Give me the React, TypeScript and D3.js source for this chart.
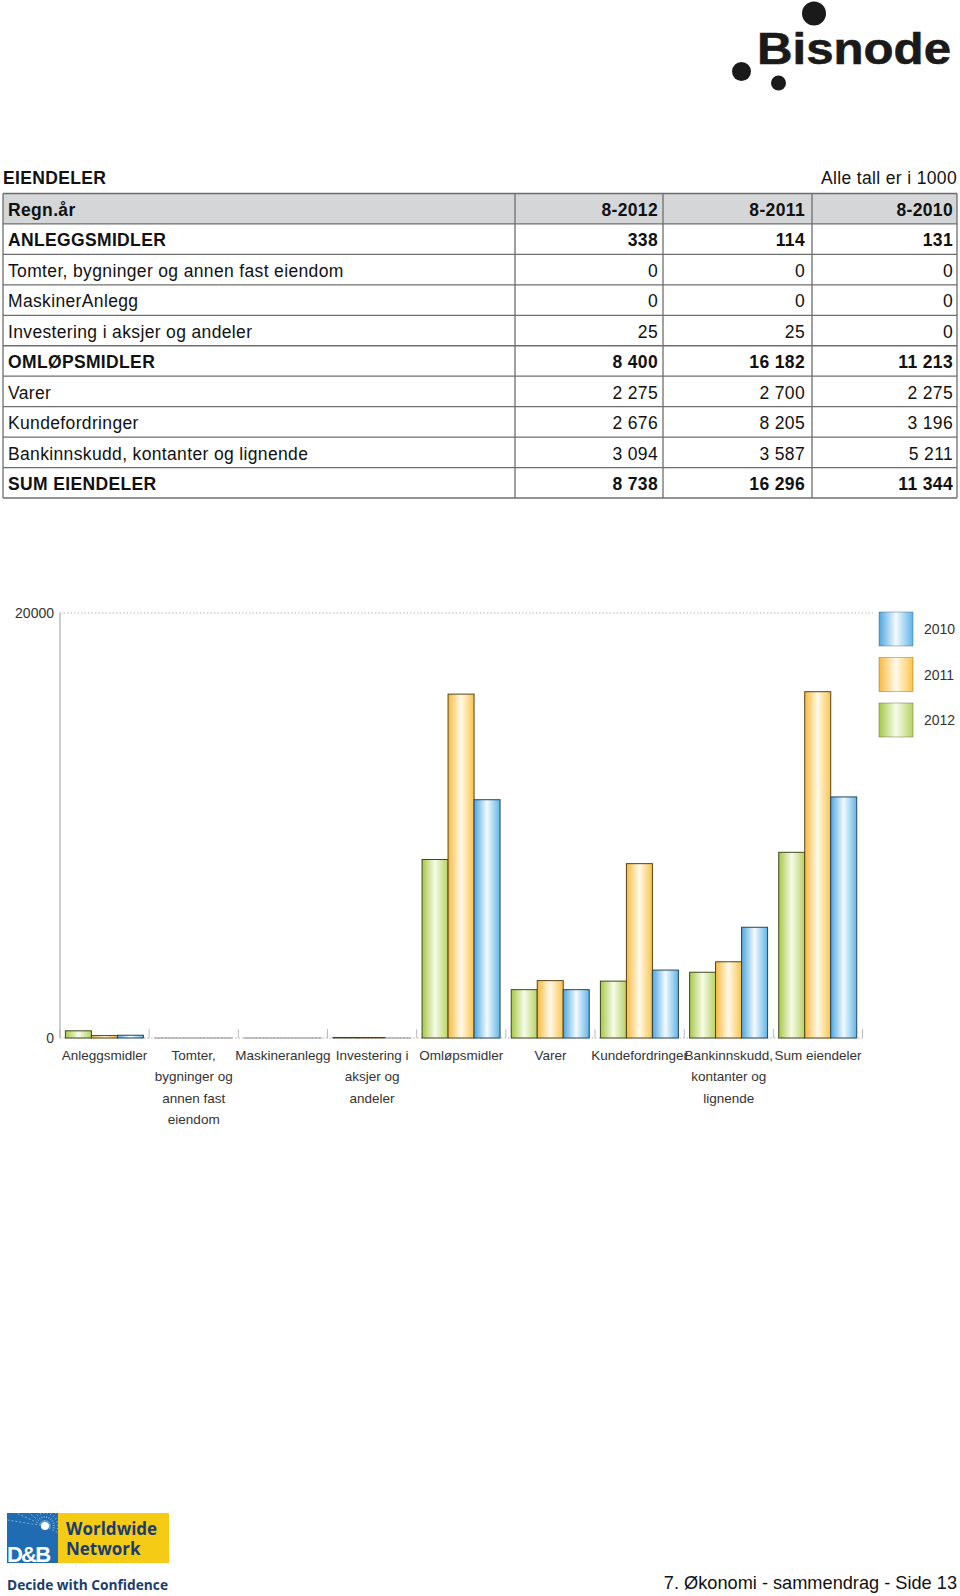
import React from "react";
import * as d3 from "d3";

const yearCols = ["8-2012", "8-2011", "8-2010"];
const rowLabels = [
  "ANLEGGSMIDLER",
  "Tomter, bygninger og annen fast eiendom",
  "MaskinerAnlegg",
  "Investering i aksjer og andeler",
  "OMLØPSMIDLER",
  "Varer",
  "Kundefordringer",
  "Bankinnskudd, kontanter og lignende",
  "SUM EIENDELER",
];
const rowIsSum = [true, false, false, false, true, false, false, false, true];
const values2012 = [338, 0, 0, 25, 8400, 2275, 2676, 3094, 8738];
const values2011 = [114, 0, 0, 25, 16182, 2700, 8205, 3587, 16296];
const values2010 = [131, 0, 0, 0, 11213, 2275, 3196, 5211, 11344];

const categoryLines = [
  ["Anleggsmidler"],
  ["Tomter,", "bygninger og", "annen fast", "eiendom"],
  ["Maskineranlegg"],
  ["Investering i", "aksjer og", "andeler"],
  ["Omløpsmidler"],
  ["Varer"],
  ["Kundefordringer"],
  ["Bankinnskudd,", "kontanter og", "lignende"],
  ["Sum eiendeler"],
];
const seriesNames = ["2012", "2011", "2010"];
const yTicks = [0, 20000];
const legendOrder = ["2010", "2011", "2012"];

const FONT = "'Liberation Sans', Arial, Helvetica, sans-serif";

const fmt = (v: number) => d3.format(",")(v).replace(/,/g, " ");

const seriesStyle: Record<string, { id: string; a: string; b: string; c: string; stroke: string }> = {
  "2012": { id: "gGreen", a: "#a6c846", b: "#f7fbea", c: "#b6d362", stroke: "#3e4720" },
  "2011": { id: "gOrange", a: "#f8ba3e", b: "#fffaea", c: "#fbc44c", stroke: "#5a4214" },
  "2010": { id: "gBlue", a: "#4ea7df", b: "#f3faff", c: "#5fb4e7", stroke: "#24485f" },
};

export default function App() {
  const tableTop = 193.5;
  const rowH = 30.45;
  const colEdges = [3, 515, 663, 812, 957];
  const numRight = [658, 805, 953];
  const allVals = [values2012, values2011, values2010];
  const TFS = 17.5;
  const TLS = 0.35;

  const x0 = d3
    .scaleBand<number>()
    .domain(d3.range(categoryLines.length))
    .range([60, 862.5])
    .paddingInner(0)
    .paddingOuter(0);
  const x1 = d3.scaleBand<string>().domain(seriesNames).range([5.4, 5.4 + 78]);
  const y = d3.scaleLinear().domain([0, 20000]).range([1038, 613]);
  const seriesVals: Record<string, number[]> = {
    "2012": values2012,
    "2011": values2011,
    "2010": values2010,
  };

  const rays = d3.range(14).map((i) => -Math.PI * 0.95 + (i * Math.PI * 1.1) / 13);

  return (
    <svg
      width={960}
      height={1596}
      style={{ position: "absolute", left: 0, top: 0, background: "#fff" }}
      fontFamily={FONT}
    >
      <defs>
        {Object.values(seriesStyle).map((s) => (
          <linearGradient key={s.id} id={s.id} x1="0" x2="1" y1="0" y2="0">
            <stop offset="0" stopColor={s.a} />
            <stop offset="0.5" stopColor={s.b} />
            <stop offset="1" stopColor={s.c} />
          </linearGradient>
        ))}
        <clipPath id="dbclip">
          <rect x={7} y={1513} width={51} height={50} />
        </clipPath>
      </defs>

      {/* Bisnode logo */}
      <circle cx={814} cy={13.5} r={12} fill="#1a1a1a" />
      <circle cx={741.5} cy={71.5} r={9.5} fill="#1a1a1a" />
      <circle cx={778.5} cy={83} r={7.5} fill="#1a1a1a" />
      <text
        x={757}
        y={63.5}
        fontSize={45}
        fontWeight="bold"
        fill="#1a1a1a"
        stroke="#1a1a1a"
        strokeWidth={0.6}
        textLength={194}
        lengthAdjust="spacingAndGlyphs"
      >
        Bisnode
      </text>

      {/* Table title */}
      <text x={3} y={183.5} fontSize={TFS} letterSpacing={TLS} fontWeight="bold" fill="#111">
        EIENDELER
      </text>
      <text x={957} y={183.5} fontSize={TFS} letterSpacing={TLS} textAnchor="end" fill="#111">
        Alle tall er i 1000
      </text>

      {/* header row */}
      <rect x={3} y={tableTop} width={954} height={rowH} fill="#d5d6d8" />
      {rowLabels.map((_, i) => (
        <rect key={"r" + i} x={3} y={tableTop + (i + 1) * rowH} width={954} height={rowH} fill="#fff" />
      ))}
      {d3.range(rowLabels.length + 2).map((i) => (
        <line
          key={"h" + i}
          x1={3}
          x2={957}
          y1={tableTop + i * rowH}
          y2={tableTop + i * rowH}
          stroke="#6e6e6e"
          strokeWidth={1.3}
        />
      ))}
      {colEdges.map((cx, i) => (
        <line
          key={"v" + i}
          x1={cx}
          x2={cx}
          y1={tableTop}
          y2={tableTop + (rowLabels.length + 1) * rowH}
          stroke="#6e6e6e"
          strokeWidth={1.3}
        />
      ))}
      <text x={8} y={tableTop + 22} fontSize={TFS} letterSpacing={TLS} fontWeight="bold" fill="#111">
        Regn.år
      </text>
      {yearCols.map((c, j) => (
        <text
          key={c}
          x={numRight[j]}
          y={tableTop + 22}
          fontSize={TFS}
          letterSpacing={TLS}
          fontWeight="bold"
          fill="#111"
          textAnchor="end"
        >
          {c}
        </text>
      ))}
      {rowLabels.map((lab, i) => {
        const by = tableTop + (i + 1) * rowH + 22.5;
        return (
          <g key={"t" + i}>
            <text
              x={8}
              y={by}
              fontSize={TFS}
              letterSpacing={TLS}
              fontWeight={rowIsSum[i] ? "bold" : "normal"}
              fill="#111"
            >
              {lab}
            </text>
            {allVals.map((vals, j) => (
              <text
                key={j}
                x={numRight[j]}
                y={by}
                fontSize={TFS}
                letterSpacing={TLS}
                fontWeight={rowIsSum[i] ? "bold" : "normal"}
                fill="#111"
                textAnchor="end"
              >
                {fmt(vals[i])}
              </text>
            ))}
          </g>
        );
      })}

      {/* Chart */}
      {yTicks.map((t) => (
        <g key={"yt" + t}>
          <line
            x1={60}
            x2={t === 0 ? 862.5 : 873}
            y1={y(t)}
            y2={y(t)}
            stroke="#b5b5b5"
            strokeWidth={1}
            strokeDasharray="1.5,2"
          />
          <text x={54} y={y(t) + 5} fontSize={14} textAnchor="end" fill="#333">
            {t}
          </text>
        </g>
      ))}
      <line x1={60} x2={60} y1={y(20000)} y2={y(0)} stroke="#9a9a9a" strokeWidth={1} />
      {d3.range(categoryLines.length + 1).map((i) => {
        const xx = 60 + i * x0.bandwidth();
        return <line key={"tk" + i} x1={xx} x2={xx} y1={y(0) - 9} y2={y(0)} stroke="#bbb" strokeWidth={1} />;
      })}

      {categoryLines.map((_, ci) =>
        seriesNames.map((s) => {
          const v = seriesVals[s][ci];
          const bx = (x0(ci) as number) + (x1(s) as number);
          const top = y(v);
          const st = seriesStyle[s];
          if (v === 0) {
            return (
              <line
                key={ci + s}
                x1={bx}
                x2={bx + x1.bandwidth()}
                y1={y(0)}
                y2={y(0)}
                stroke="#8a8a8a"
                strokeWidth={1}
              />
            );
          }
          return (
            <rect
              key={ci + s}
              x={bx}
              y={top}
              width={x1.bandwidth()}
              height={Math.max(0, y(0) - top)}
              fill={`url(#${st.id})`}
              stroke={st.stroke}
              strokeWidth={1}
            />
          );
        })
      )}

      {categoryLines.map((lines, ci) => {
        const cx = (x0(ci) as number) + x0.bandwidth() / 2;
        return (
          <text key={"cl" + ci} fontSize={13.5} fill="#333" textAnchor="middle">
            {lines.map((ln, k) => (
              <tspan key={k} x={cx} y={1060 + k * 21.3}>
                {ln}
              </tspan>
            ))}
          </text>
        );
      })}

      {/* Legend */}
      {legendOrder.map((s, i) => {
        const st = seriesStyle[s];
        const ly = 612 + i * 45.5;
        return (
          <g key={"lg" + s}>
            <rect x={879} y={ly} width={34} height={34} fill={`url(#${st.id})`} stroke={st.stroke} strokeWidth={0.6} strokeOpacity={0.6} />
            <text x={924} y={ly + 22} fontSize={14} fill="#333">
              {s}
            </text>
          </g>
        );
      })}

      {/* D&B logo */}
      <rect x={7} y={1513} width={51} height={50} fill="#1f6cb3" />
      <rect x={58} y={1513} width={111} height={50} fill="#f6cb16" />
      <g clipPath="url(#dbclip)">
        {rays.map((a, i) => (
          <line
            key={"ray" + i}
            x1={45}
            y1={1526}
            x2={45 + Math.cos(a) * 60}
            y2={1526 + Math.sin(a) * 60}
            stroke="#ffffff"
            strokeOpacity={0.55}
            strokeWidth={0.8}
            strokeDasharray="2,2"
          />
        ))}
      </g>
      <circle cx={45} cy={1526} r={4} fill="#ffffff" />
      <text x={7} y={1562} fontSize={22} fontWeight="bold" fill="#fff" letterSpacing={-1.8}>
        D&amp;B
      </text>
      <text x={66} y={1535} fontSize={17} fontWeight="bold" fill="#1b3d6d" fontFamily="'Open Sans', sans-serif">
        Worldwide
      </text>
      <text x={66} y={1555} fontSize={17} fontWeight="bold" fill="#1b3d6d" fontFamily="'Open Sans', sans-serif">
        Network
      </text>
      <text
        x={7}
        y={1590}
        fontSize={14.5}
        fontWeight="bold"
        fill="#1b3d6d"
        fontFamily="'Open Sans', sans-serif"
        textLength={161}
        lengthAdjust="spacingAndGlyphs"
      >
        Decide with Confidence
      </text>

      {/* Footer */}
      <text x={957} y={1589} fontSize={18.2} textAnchor="end" fill="#111">
        7. Økonomi - sammendrag - Side 13
      </text>
    </svg>
  );
}
